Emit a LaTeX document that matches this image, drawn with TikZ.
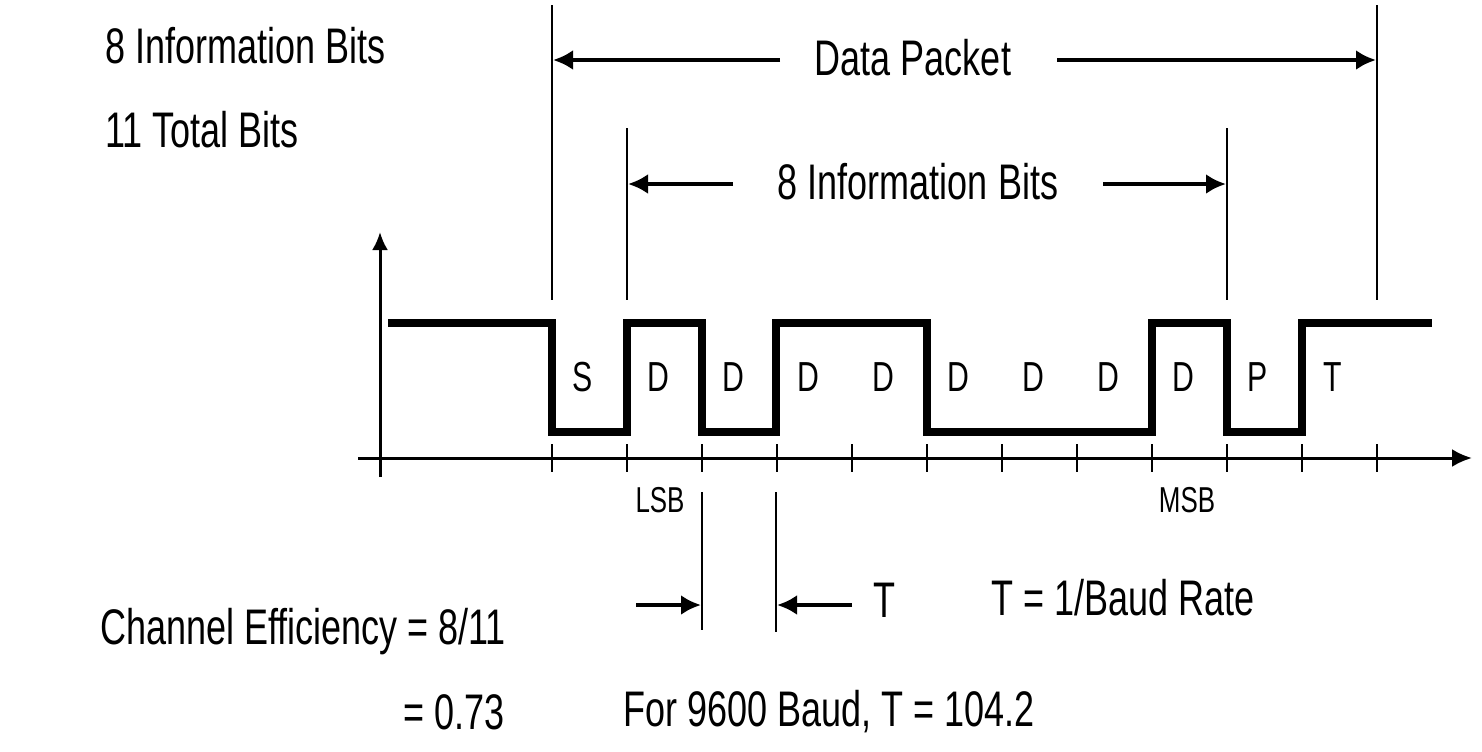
\documentclass[tikz,border=0pt]{standalone}
\usepackage{fontspec}
\setmainfont{Liberation Sans}[FakeStretch=0.72]
\usetikzlibrary{arrows.meta}
\begin{document}
\begin{tikzpicture}[x=0.5pt,y=-0.5pt,
    lbl/.style={font=\fontsize{25}{28}\selectfont},
    bitlbl/.style={font=\fontsize{21}{24}\selectfont},
    smalllbl/.style={font=\fontsize{18}{20}\selectfont},
    sig/.style={line width=4pt,line join=miter},
    dim/.style={line width=1.3pt},
    dimarr/.style={line width=2pt,-{Latex[length=10pt,width=10pt]}}]
  \useasboundingbox (0,0) rectangle (1482,751);
  % Achsen
  \draw[line width=1.5pt,-{Latex[length=9pt,width=8pt]}] (380,477) -- (380,232);
  \draw[line width=1.5pt,-{Latex[length=10pt,width=9pt]}] (358,458) -- (1472,458);
  % Teilstriche
  \foreach \x in {552,627,...,1377}
    \draw[dim] (\x,444) -- (\x,472);
  % Signal
  \draw[sig] (388,323) -| (552,432) -| (627,323) -| (702,432) -| (776,323)
    -| (927,432) -| (1152,323) -| (1227,432) -| (1302,323) -- (1432,323);
  % Bitbezeichnungen
  \foreach \x/\b in {583/S,658/D,733/D,808/D,883/D,958/D,1033/D,1108/D,1183/D,1258/P,1333/T}
    \node[bitlbl] at (\x,377) {\b};
  \node[smalllbl] (lsb) at (660,500) {LSB};
  \node[smalllbl] (msb) at (1187,500) {MSB};
  % Masslinien oben
  \coordinate (pL) at (552,5);    \coordinate (pLb) at (552,300);
  \coordinate (pR) at (1377,5);   \coordinate (pRb) at (1377,300);
  \coordinate (iL) at (627,128);  \coordinate (iLb) at (627,300);
  \coordinate (iR) at (1227,128); \coordinate (iRb) at (1227,300);
  \draw[dim] (pL) -- (pLb);
  \draw[dim] (pR) -- (pRb);
  \draw[dim] (iL) -- (iLb);
  \draw[dim] (iR) -- (iRb);
  \node[lbl] (dp) at (913,58) {Data Packet};
  \coordinate (dpA) at (780,60);  \coordinate (dpB) at (1057,60);
  \draw[dimarr] (dpA) -- (553,60);
  \draw[dimarr] (dpB) -- (1376,60);
  \node[lbl] (ib) at (918,182) {8 Information Bits};
  \coordinate (ibA) at (733,184); \coordinate (ibB) at (1103,184);
  \draw[dimarr] (ibA) -- (628,184);
  \draw[dimarr] (ibB) -- (1226,184);
  % Bitdauer T
  \coordinate (tL) at (702,492); \coordinate (tLb) at (702,630);
  \coordinate (tR) at (776,492); \coordinate (tRb) at (776,632);
  \draw[dim] (tL) -- (tLb);
  \draw[dim] (tR) -- (tRb);
  \coordinate (tA) at (636,605); \coordinate (tB) at (852,605);
  \draw[dimarr] (tA) -- (701,605);
  \draw[dimarr] (tB) -- (777,605);
  \node[lbl] (t) at (884,600) {T};
  \node[lbl] (baud) at (1123,598) {T = 1/Baud Rate};
  % Texte links und unten
  \node[lbl,anchor=west] (info) at (98,46) {8 Information Bits};
  \node[lbl,anchor=west] (total) at (98,130) {11 Total Bits};
  \node[lbl,anchor=west] (eff) at (93,632) {Channel Efficiency = 8/11};
  \node[lbl,anchor=east] (eff2) at (512,712) {= 0.73};
  \node[lbl,anchor=west] (for) at (616,712) {For 9600 Baud, T = 104.2};
\end{tikzpicture}
\end{document}
